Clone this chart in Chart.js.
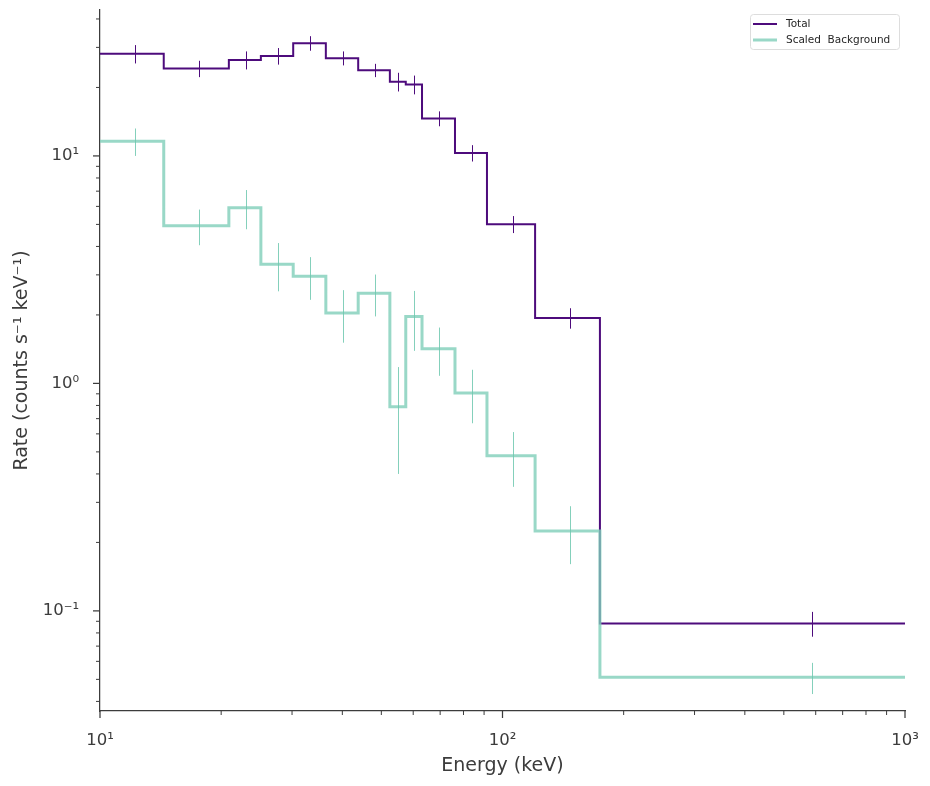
<!DOCTYPE html>
<html>
<head>
<meta charset="utf-8">
<script src="https://cdn.jsdelivr.net/npm/chart.js@4.4.1/dist/chart.umd.min.js"></script>
<style>
  html, body { margin: 0; padding: 0; background: #fff; }
  #wrap { width: 930px; height: 786px; }
</style>
</head>
<body>
<div id="wrap"><canvas id="spec" width="930" height="786"></canvas></div>
<script>
  // bin edges (keV) shared by both spectra
  var binEdges = [10, 14.4, 20.9, 25.1, 30.2, 36.4, 43.8, 52.5, 57.5, 63.1, 76.2, 91.5, 120.5, 174.6, 1000];
  var totalRate = [28.1, 24.2, 26.4, 27.5, 31.3, 26.9, 23.8, 21.2, 20.6, 14.6, 10.3, 5.01, 1.94, 0.088];
  var totalErr = [2.6, 2.0, 2.4, 2.3, 2.3, 1.9, 1.6, 2.0, 1.95, 1.1, 0.85, 0.43, 0.2, 0.011];
  var bkgRate = [11.6, 4.93, 5.92, 3.34, 2.96, 2.04, 2.49, 0.79, 1.97, 1.42, 0.908, 0.481, 0.2245, 0.0511];
  var bkgErr = [1.6, 0.88, 1.16, 0.8, 0.63, 0.53, 0.52, 0.39, 0.58, 0.34, 0.24, 0.13, 0.064, 0.008];
  var xTickLabels = { 10: '10\u00b9', 100: '10\u00b2', 1000: '10\u00b3' };
  var yTickLabels = { 0.1: '10\u207b\u00b9', 1: '10\u2070', 10: '10\u00b9' };

  var purple = '#4d0b7c';
  var teal = 'rgba(128,206,185,0.8)';
  var tealErr = 'rgba(110,200,175,0.85)';
  var ink = '#3c3c3c';
  var fam = "'DejaVu Sans', sans-serif";

  function steps(vals) {
    return binEdges.map(function (e, i) {
      return { x: e, y: vals[Math.min(i, vals.length - 1)] };
    });
  }

  function centers() {
    var c = [];
    for (var i = 0; i < binEdges.length - 1; i++) c.push((binEdges[i] + binEdges[i + 1]) / 2);
    return c;
  }

  function labelFor(map, v) {
    for (var k in map) {
      if (Math.abs(Number(k) - v) / v < 1e-6) return map[k];
    }
    return '';
  }

  function noPad(s) {
    s.paddingTop = 0; s.paddingBottom = 0; s.paddingLeft = 0; s.paddingRight = 0;
  }

  var extras = {
    id: 'extras',
    afterDatasetsDraw: function (chart) {
      var ctx = chart.ctx, xs = chart.scales.x, ys = chart.scales.y, a = chart.chartArea;
      var mids = centers();
      ctx.save();
      ctx.beginPath();
      ctx.rect(a.left, a.top, a.right - a.left, a.bottom - a.top);
      ctx.clip();
      [[totalRate, totalErr, purple], [bkgRate, bkgErr, tealErr]].forEach(function (s) {
        ctx.strokeStyle = s[2];
        ctx.lineWidth = 1;
        for (var i = 0; i < mids.length; i++) {
          var px = Math.round(xs.getPixelForValue(mids[i])) + 0.5;
          ctx.beginPath();
          ctx.moveTo(px, ys.getPixelForValue(s[0][i] + s[1][i]));
          ctx.lineTo(px, ys.getPixelForValue(s[0][i] - s[1][i]));
          ctx.stroke();
        }
      });
      ctx.restore();
    },
    afterDraw: function (chart) {
      var ctx = chart.ctx, xs = chart.scales.x, ys = chart.scales.y, a = chart.chartArea;
      ctx.save();
      ctx.strokeStyle = ink;
      // tick marks, outward
      for (var e = -2; e <= 3; e++) {
        for (var m = 1; m <= 9; m++) {
          var v = m * Math.pow(10, e);
          var major = m === 1;
          ctx.lineWidth = major ? 1.25 : 1;
          var len = major ? 7 : 4;
          if (v >= xs.min - 1e-9 && v <= xs.max + 1e-9) {
            var px = xs.getPixelForValue(v);
            ctx.beginPath();
            ctx.moveTo(px, a.bottom);
            ctx.lineTo(px, a.bottom + len);
            ctx.stroke();
          }
          if (v >= ys.min && v <= ys.max) {
            var py = ys.getPixelForValue(v);
            ctx.beginPath();
            ctx.moveTo(a.left, py);
            ctx.lineTo(a.left - len, py);
            ctx.stroke();
          }
        }
      }
      // legend box
      var bx = 750.5, by = 14.5, bw = 149, bh = 35, r = 3;
      ctx.beginPath();
      ctx.moveTo(bx + r, by);
      ctx.arcTo(bx + bw, by, bx + bw, by + bh, r);
      ctx.arcTo(bx + bw, by + bh, bx, by + bh, r);
      ctx.arcTo(bx, by + bh, bx, by, r);
      ctx.arcTo(bx, by, bx + bw, by, r);
      ctx.closePath();
      ctx.fillStyle = 'rgba(255,255,255,0.8)';
      ctx.fill();
      ctx.strokeStyle = '#dddddd';
      ctx.lineWidth = 1;
      ctx.stroke();
      ctx.font = '10.5px ' + fam;
      ctx.textBaseline = 'middle';
      ctx.fillStyle = '#262626';
      chart.data.datasets.forEach(function (ds, i) {
        var ly = 24 + i * 16;
        ctx.strokeStyle = ds.borderColor;
        ctx.lineWidth = ds.borderWidth;
        ctx.beginPath();
        ctx.moveTo(753, ly);
        ctx.lineTo(777, ly);
        ctx.stroke();
        ctx.fillText(ds.label, 786, ly + 0.5);
      });
      ctx.restore();
    }
  };

  new Chart(document.getElementById('spec').getContext('2d'), {
    type: 'line',
    data: {
      datasets: [
        { label: 'Total', data: steps(totalRate), borderColor: purple, borderWidth: 2, stepped: 'before', pointRadius: 0, fill: false, order: 1 },
        { label: 'Scaled  Background', data: steps(bkgRate), borderColor: teal, borderWidth: 3, stepped: 'before', pointRadius: 0, fill: false, order: 0 }
      ]
    },
    options: {
      responsive: false,
      animation: false,
      layout: { padding: { top: 10, right: 25, left: 0, bottom: 0 } },
      plugins: { legend: { display: false }, tooltip: { enabled: false } },
      scales: {
        x: {
          type: 'logarithmic',
          min: 10,
          max: 1000,
          grid: { display: false, drawTicks: false },
          border: { display: true, color: ink, width: 1.25 },
          ticks: {
            autoSkip: false, maxRotation: 0, padding: 20, color: ink,
            font: { family: fam, size: 16.5 },
            callback: function (v) { return labelFor(xTickLabels, v); }
          },
          title: { display: true, text: 'Energy (keV)', color: ink, font: { family: fam, size: 19 }, padding: { top: 0, bottom: 9 } },
          afterFit: function (s) { s.height = 75; noPad(s); }
        },
        y: {
          type: 'logarithmic',
          min: 0.0363,
          max: 43.8,
          grid: { display: false, drawTicks: false },
          border: { display: true, color: ink, width: 1.25 },
          ticks: {
            autoSkip: false, padding: 21, color: ink,
            font: { family: fam, size: 16.5 },
            callback: function (v) { return labelFor(yTickLabels, v); }
          },
          title: { display: true, text: 'Rate (counts s\u207b\u00b9 keV\u207b\u00b9)', color: ink, font: { family: fam, size: 19 }, padding: { top: 11, bottom: 0 } },
          afterFit: function (s) { s.width = 100; noPad(s); }
        }
      }
    },
    plugins: [extras]
  });
</script>
</body>
</html>
